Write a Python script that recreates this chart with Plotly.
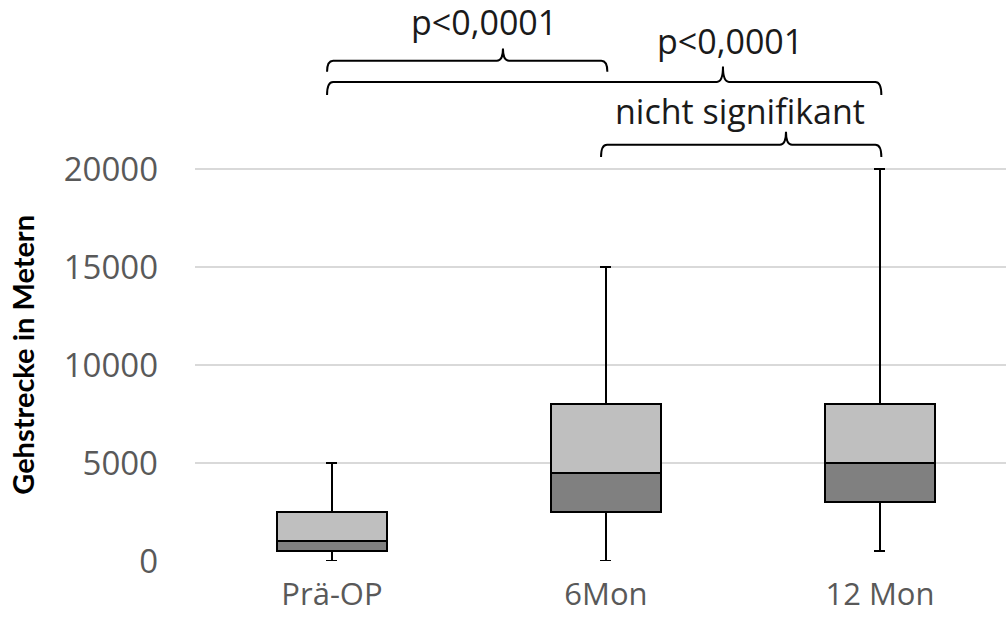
import plotly.graph_objects as go

# ---- data ----
categories = ["Prä-OP", "6Mon", "12 Mon"]
minimum = [0, 0, 500]
q1 = [500, 2500, 3000]
median = [1000, 4500, 5000]
q3 = [2500, 8000, 8000]
maximum = [5000, 15000, 20000]
y_ticks = [0, 5000, 10000, 15000, 20000]

# significance brackets (category index from/to, tip position, label)
br_from = [0, 0, 1]
br_to = [1, 2, 2]
br_tip = [0.624, 1.427, 1.657]
br_text = ["p<0,0001", "p<0,0001", "nicht signifikant"]
br_text_x = [0.555, 1.453, 1.489]
# vertical placement in paper units: horizontal line, end, tip, label
br_level = [1.273, 1.219, 1.059]
br_end = [1.245, 1.186, 1.028]
br_top = [1.304, 1.258, 1.092]
br_label_y = [1.372, 1.324, 1.145]

x = list(range(len(categories)))
lower = [m - a for m, a in zip(median, q1)]
upper = [b - m for b, m in zip(q3, median)]
low_wh = [a - mn for a, mn in zip(q1, minimum)]
up_wh = [mx - b for mx, b in zip(maximum, q3)]

fig = go.Figure()
fig.add_trace(go.Bar(
    x=x, y=q1, width=0.4, marker=dict(color="rgba(0,0,0,0)", line=dict(width=0)),
    error_y=dict(type="data", symmetric=False, array=[0] * len(x), arrayminus=low_wh,
                 color="black", thickness=2, width=5.5),
    showlegend=False, hoverinfo="skip", cliponaxis=False))
fig.add_trace(go.Bar(
    x=x, y=lower, width=0.4, marker=dict(color="#808080", line=dict(color="black", width=2)),
    showlegend=False, cliponaxis=False))
fig.add_trace(go.Bar(
    x=x, y=upper, width=0.4, marker=dict(color="#bfbfbf", line=dict(color="black", width=2)),
    error_y=dict(type="data", symmetric=False, array=up_wh, arrayminus=[0] * len(x),
                 color="black", thickness=2, width=5.5),
    showlegend=False, cliponaxis=False))

shapes = []
d = 0.022
for x0, x1, xt, yl, ye, yt in zip(br_from, br_to, br_tip, br_level, br_end, br_top):
    x0 -= 0.018
    x1 += 0.005
    path = (f"M {x0},{ye} Q {x0},{yl} {x0 + d},{yl} "
            f"L {xt - d},{yl} Q {xt},{yl} {xt},{yt} "
            f"Q {xt},{yl} {xt + d},{yl} "
            f"L {x1 - d},{yl} Q {x1},{yl} {x1},{ye}")
    shapes.append(dict(type="path", xref="x", yref="paper", path=path,
                       line=dict(color="black", width=2)))

annotations = []
for t, tx, ty in zip(br_text, br_text_x, br_label_y):
    annotations.append(dict(text=t, x=tx, y=ty, xref="x", yref="paper",
                            showarrow=False, xanchor="center", yanchor="middle",
                            font=dict(family="Open Sans", size=34, color="#1a1a1a")))
annotations.append(dict(text="<b>Gehstrecke in Metern</b>", x=-0.212, y=0.525,
                        xref="paper", yref="paper", showarrow=False, textangle=-90,
                        xanchor="center", yanchor="middle",
                        font=dict(family="Lato", size=29, color="black")))

fig.update_layout(
    width=1006, height=617,
    margin=dict(l=195, r=0, t=168, b=56),
    barmode="stack", bargap=0,
    plot_bgcolor="white", paper_bgcolor="white",
    shapes=shapes, annotations=annotations,
    font=dict(family="Open Sans"),
)
fig.update_xaxes(range=[-0.5, 2.46], tickvals=x, ticktext=categories,
                 showgrid=False, showline=False, zeroline=False, ticks="",
                 ticklabelstandoff=12, automargin=False,
                 tickfont=dict(family="Open Sans", size=31, color="#595959"))
fig.update_yaxes(range=[0, 20060], tickvals=y_ticks, ticktext=[str(v) for v in y_ticks],
                 showgrid=True, gridcolor="#d9d9d9", gridwidth=2, automargin=False,
                 showline=False, zeroline=False, ticks="", ticklabelstandoff=36,
                 tickfont=dict(family="Open Sans", size=33, color="#595959"))

fig.write_html("out.html", config={"displayModeBar": False},
               post_script="document.body.style.margin='0';")
